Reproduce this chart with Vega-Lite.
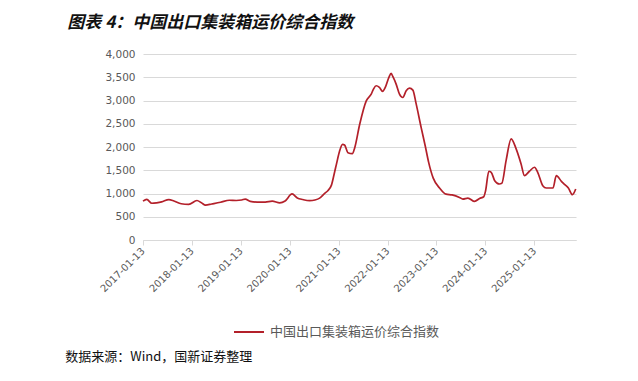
{
  "$schema": "https://vega.github.io/schema/vega-lite/v6.json",
  "background": "white",
  "padding": {"left": 65, "top": 14, "right": 10, "bottom": 5},
  "title": {
    "text": "图表 4：中国出口集装箱运价综合指数",
    "anchor": "start",
    "font": "Noto Sans CJK SC",
    "fontSize": 17,
    "fontWeight": "bold",
    "fontStyle": "italic",
    "color": "#111111",
    "dx": 2,
    "offset": 17
  },
  "resolve": {"legend": {"color": "independent"}},
  "vconcat": [
    {
      "width": 433,
      "height": 186,
      "title": {
        "text": "数据来源：Wind，国新证券整理",
        "orient": "bottom",
        "anchor": "start",
        "font": "Noto Sans CJK SC",
        "fontSize": 13,
        "fontWeight": "normal",
        "color": "#111111",
        "dx": -33,
        "offset": 12
      },
      "data": {
        "values": [
          {"date": "2017-01-13", "value": 835},
          {"date": "2017-02-10", "value": 872},
          {"date": "2017-03-20", "value": 790},
          {"date": "2017-04-25", "value": 800},
          {"date": "2017-06-01", "value": 820},
          {"date": "2017-07-25", "value": 870},
          {"date": "2017-09-01", "value": 840},
          {"date": "2017-10-25", "value": 780},
          {"date": "2017-12-20", "value": 765},
          {"date": "2018-02-20", "value": 850},
          {"date": "2018-03-25", "value": 800},
          {"date": "2018-04-25", "value": 750},
          {"date": "2018-06-10", "value": 775},
          {"date": "2018-08-15", "value": 812},
          {"date": "2018-10-20", "value": 855},
          {"date": "2018-12-10", "value": 850},
          {"date": "2019-01-20", "value": 860},
          {"date": "2019-02-15", "value": 880},
          {"date": "2019-03-25", "value": 830},
          {"date": "2019-05-15", "value": 815},
          {"date": "2019-07-15", "value": 815},
          {"date": "2019-09-05", "value": 835},
          {"date": "2019-10-31", "value": 800},
          {"date": "2019-12-10", "value": 840},
          {"date": "2020-01-31", "value": 990},
          {"date": "2020-03-10", "value": 905},
          {"date": "2020-04-20", "value": 870},
          {"date": "2020-06-10", "value": 845},
          {"date": "2020-07-20", "value": 860},
          {"date": "2020-08-24", "value": 900},
          {"date": "2020-10-01", "value": 1005},
          {"date": "2020-10-24", "value": 1060},
          {"date": "2020-11-20", "value": 1180},
          {"date": "2020-12-15", "value": 1480},
          {"date": "2020-12-27", "value": 1626},
          {"date": "2021-01-20", "value": 1914},
          {"date": "2021-02-11", "value": 2058},
          {"date": "2021-02-26", "value": 2043},
          {"date": "2021-03-23", "value": 1878},
          {"date": "2021-04-25", "value": 1856},
          {"date": "2021-05-13", "value": 1986},
          {"date": "2021-06-19", "value": 2489},
          {"date": "2021-08-07", "value": 2993},
          {"date": "2021-09-13", "value": 3137},
          {"date": "2021-09-30", "value": 3245},
          {"date": "2021-10-20", "value": 3317},
          {"date": "2021-11-13", "value": 3281},
          {"date": "2021-12-07", "value": 3195},
          {"date": "2021-12-27", "value": 3281},
          {"date": "2022-01-23", "value": 3497},
          {"date": "2022-02-09", "value": 3583},
          {"date": "2022-02-22", "value": 3511},
          {"date": "2022-03-18", "value": 3353},
          {"date": "2022-04-12", "value": 3137},
          {"date": "2022-05-07", "value": 3065},
          {"date": "2022-06-01", "value": 3209},
          {"date": "2022-06-26", "value": 3267},
          {"date": "2022-07-21", "value": 3224},
          {"date": "2022-08-15", "value": 2921},
          {"date": "2022-09-21", "value": 2417},
          {"date": "2022-10-23", "value": 2000},
          {"date": "2022-11-15", "value": 1680},
          {"date": "2022-12-20", "value": 1330},
          {"date": "2023-02-05", "value": 1120},
          {"date": "2023-03-26", "value": 985},
          {"date": "2023-05-10", "value": 970},
          {"date": "2023-07-04", "value": 916},
          {"date": "2023-07-29", "value": 880},
          {"date": "2023-09-05", "value": 902},
          {"date": "2023-10-25", "value": 830},
          {"date": "2023-12-01", "value": 894},
          {"date": "2024-01-01", "value": 930},
          {"date": "2024-01-15", "value": 1060},
          {"date": "2024-02-08", "value": 1478},
          {"date": "2024-02-26", "value": 1456},
          {"date": "2024-03-23", "value": 1276},
          {"date": "2024-04-27", "value": 1204},
          {"date": "2024-05-15", "value": 1218},
          {"date": "2024-06-16", "value": 1708},
          {"date": "2024-07-24", "value": 2176},
          {"date": "2024-08-30", "value": 1960},
          {"date": "2024-10-06", "value": 1636},
          {"date": "2024-10-31", "value": 1384},
          {"date": "2024-12-07", "value": 1478},
          {"date": "2025-01-14", "value": 1564},
          {"date": "2025-02-07", "value": 1456},
          {"date": "2025-03-17", "value": 1168},
          {"date": "2025-04-12", "value": 1118},
          {"date": "2025-06-01", "value": 1118},
          {"date": "2025-06-26", "value": 1384},
          {"date": "2025-08-03", "value": 1262},
          {"date": "2025-08-29", "value": 1190},
          {"date": "2025-09-24", "value": 1118},
          {"date": "2025-10-24", "value": 974},
          {"date": "2025-11-18", "value": 1096}
        ]
      },
      "mark": {"type": "line", "strokeWidth": 1.7, "interpolate": "monotone"},
      "encoding": {
        "x": {
          "field": "date",
          "type": "temporal",
          "scale": {"type": "utc", "domain": [{"year": 2017, "month": 1, "date": 13, "utc": true}, {"year": 2025, "month": 11, "date": 20, "utc": true}]},
          "axis": {
            "title": null,
            "values": [
              {"year": 2017, "month": 1, "date": 13, "utc": true},
              {"year": 2018, "month": 1, "date": 13, "utc": true},
              {"year": 2019, "month": 1, "date": 13, "utc": true},
              {"year": 2020, "month": 1, "date": 13, "utc": true},
              {"year": 2021, "month": 1, "date": 13, "utc": true},
              {"year": 2022, "month": 1, "date": 13, "utc": true},
              {"year": 2023, "month": 1, "date": 13, "utc": true},
              {"year": 2024, "month": 1, "date": 13, "utc": true},
              {"year": 2025, "month": 1, "date": 13, "utc": true}
            ],
            "format": "%Y-%m-%d",
            "labelAngle": -45,
            "labelAlign": "right",
            "labelBaseline": "middle",
            "labelFont": "DejaVu Sans",
            "labelFontSize": 10,
            "labelColor": "#595959",
            "labelPadding": 4,
            "grid": false,
            "domainColor": "#d9d9d9",
            "tickColor": "#d9d9d9",
            "tickSize": 5
          }
        },
        "y": {
          "field": "value",
          "type": "quantitative",
          "scale": {"domain": [0, 4000]},
          "axis": {
            "title": null,
            "values": [0, 500, 1000, 1500, 2000, 2500, 3000, 3500, 4000],
            "format": ",.0f",
            "labelFont": "DejaVu Sans",
            "labelFontSize": 10.5,
            "labelColor": "#595959",
            "labelPadding": 8,
            "domain": false,
            "ticks": false,
            "grid": true,
            "gridColor": "#d9d9d9",
            "gridWidth": 1
          }
        },
        "color": {
          "datum": "中国出口集装箱运价综合指数",
          "scale": {"range": ["#b3202a"]},
          "legend": {
            "title": null,
            "orient": "none",
            "legendX": 90,
            "legendY": 262,
            "direction": "horizontal",
            "symbolType": "stroke",
            "symbolSize": 900,
            "symbolStrokeWidth": 2,
            "labelFont": "Noto Sans CJK SC",
            "labelFontSize": 13,
            "labelLimit": 400,
            "labelOffset": 5,
            "labelColor": "#595959"
          }
        }
      }
    }
  ],
  "config": {
    "view": {"stroke": null}
  }
}
